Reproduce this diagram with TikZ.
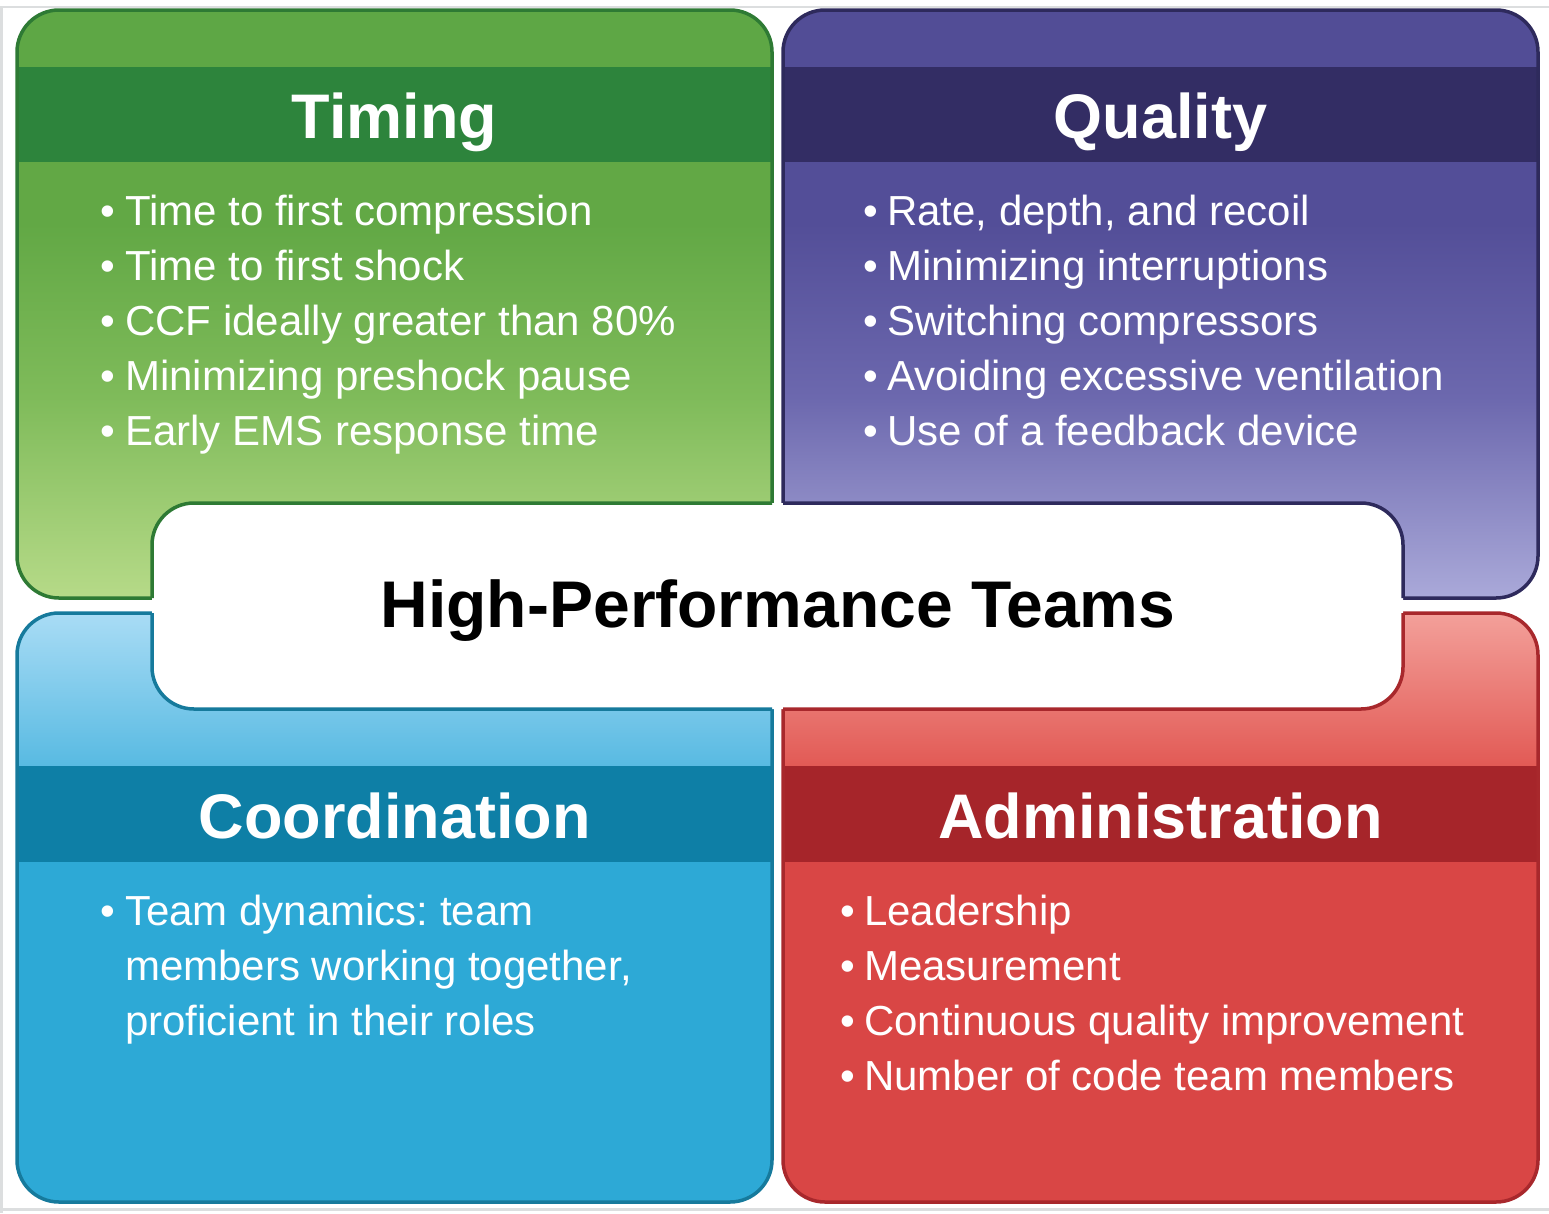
\documentclass[tikz,border=0pt]{standalone}
\usepackage{fontspec}
\setmainfont{Liberation Sans}
\frenchspacing

% quadrant palettes
\definecolor{gline}{HTML}{2E7A34}
\definecolor{gband}{HTML}{5EA745}
\definecolor{ghead}{HTML}{2D843C}
\definecolor{gtop}{HTML}{62A845}
\definecolor{gmid}{HTML}{7FBB5A}
\definecolor{gbot}{HTML}{B6DA88}

\definecolor{pline}{HTML}{2E2A5C}
\definecolor{pband}{HTML}{524D96}
\definecolor{phead}{HTML}{332D64}
\definecolor{ptop}{HTML}{534E98}
\definecolor{pmid}{HTML}{6C68AE}
\definecolor{pbot}{HTML}{AAA9D9}

\definecolor{bline}{HTML}{167A9C}
\definecolor{btop}{HTML}{A9DCF5}
\definecolor{bbot}{HTML}{58BAE2}
\definecolor{bhead}{HTML}{0E7FA6}
\definecolor{bbody}{HTML}{2DA9D6}

\definecolor{rline}{HTML}{A8282C}
\definecolor{rtop}{HTML}{F3A09A}
\definecolor{rbot}{HTML}{E25A55}
\definecolor{rhead}{HTML}{A6252A}
\definecolor{rbody}{HTML}{D94645}

\definecolor{framegrey}{HTML}{DCDEDF}

% vertical body shadings: 25bp = bottom of the filled area, 75bp = top
\pgfdeclareverticalshading{gbodyshade}{100bp}{color(0bp)=(gbot); color(25bp)=(gbot); color(48bp)=(gmid); color(68bp)=(gtop); color(100bp)=(gtop)}
\pgfdeclareverticalshading{pbodyshade}{100bp}{color(0bp)=(pbot); color(25bp)=(pbot); color(48bp)=(pmid); color(68bp)=(ptop); color(100bp)=(ptop)}

\begin{document}
\begin{tikzpicture}[x=1pt,y=-1pt,
  rc/.style={rounded corners=42pt},
  outline/.style={rc, line width=3.5pt},
  heading/.style={anchor=base, text=white, font=\fontsize{63}{63}\selectfont\bfseries, inner sep=0pt},
  item/.style={anchor=base west, text=white, font=\fontsize{42}{55}\selectfont, inner sep=0pt},
  title/.style={anchor=base, text=black, font=\fontsize{66}{66}\selectfont\bfseries, inner sep=0pt}]
\newcommand\bul{\makebox[0pt][r]{\textbullet\hspace{9.5pt}}}
\useasboundingbox (0,0) rectangle (1549,1213);

% thin frame
\draw[framegrey, line width=2pt] (0,7) -- (1549,7);
\draw[framegrey, line width=3pt] (1.5,7) -- (1.5,1213);
\draw[framegrey, line width=3pt] (0,1209.5) -- (1549,1209.5);

% Timing panel
\begin{scope}
  \clip[rc] (17,10) rectangle (772,598);
  \fill[gband] (17,10) rectangle (772,67);
  \fill[ghead] (17,67) rectangle (772,162);
  \shade[shading=gbodyshade] (17,162) rectangle (772,598);
\end{scope}
\draw[gline, outline] (17,10) rectangle (772,598);

% Quality panel
\begin{scope}
  \clip[rc] (783,10) rectangle (1538,598);
  \fill[pband] (783,10) rectangle (1538,67);
  \fill[phead] (783,67) rectangle (1538,162);
  \shade[shading=pbodyshade] (783,162) rectangle (1538,598);
\end{scope}
\draw[pline, outline] (783,10) rectangle (1538,598);

% Coordination panel
\begin{scope}
  \clip[rc] (17,613) rectangle (772,1202);
  \shade[top color=btop, bottom color=bbot] (17,613) rectangle (772,766);
  \fill[bhead] (17,766) rectangle (772,862);
  \fill[bbody] (17,862) rectangle (772,1202);
\end{scope}
\draw[bline, outline] (17,613) rectangle (772,1202);

% Administration panel
\begin{scope}
  \clip[rc] (783,613) rectangle (1538,1202);
  \shade[top color=rtop, bottom color=rbot] (783,613) rectangle (1538,766);
  \fill[rhead] (783,766) rectangle (1538,862);
  \fill[rbody] (783,862) rectangle (1538,1202);
\end{scope}
\draw[rline, outline] (783,613) rectangle (1538,1202);

% central box, its edge taking the colour of each panel it lies on
\fill[white, rc] (152,503) rectangle (1403,709);
\begin{scope}
  \clip[rc] (17,10) rectangle (772,598);
  \draw[gline, outline] (152,503) rectangle (1403,709);
\end{scope}
\begin{scope}
  \clip[rc] (783,10) rectangle (1538,598);
  \draw[pline, outline] (152,503) rectangle (1403,709);
\end{scope}
\begin{scope}
  \clip[rc] (17,613) rectangle (772,1202);
  \draw[bline, outline] (152,503) rectangle (1403,709);
\end{scope}
\begin{scope}
  \clip[rc] (783,613) rectangle (1538,1202);
  \draw[rline, outline] (152,503) rectangle (1403,709);
\end{scope}

\node[title] (hpt) at (778,627) {High-Performance Teams};

% headings
\node[heading] (timing) at (394.5,138) {Timing};
\node[heading] (quality) at (1160.5,138) {Quality};
\node[heading] (coord) at (394.5,838) {Coordination};
\node[heading] (admin) at (1160.5,838) {Administration};

% Timing items
\node[item] (t1) at (125,225) {\bul Time to first compression};
\node[item] (t2) at (125,280) {\bul Time to first shock};
\node[item] (t3) at (125,335) {\bul CCF ideally greater than 80\%};
\node[item] (t4) at (125,390) {\bul Minimizing preshock pause};
\node[item] (t5) at (125,445) {\bul Early EMS response time};

% Quality items
\node[item] (q1) at (887,225) {\bul Rate, depth, and recoil};
\node[item] (q2) at (887,280) {\bul Minimizing interruptions};
\node[item] (q3) at (887,335) {\bul Switching compressors};
\node[item] (q4) at (887,390) {\bul Avoiding excessive ventilation};
\node[item] (q5) at (887,445) {\bul Use of a feedback device};

% Coordination item
\node[item] (c1) at (125,925) {\bul Team dynamics: team};
\node[item] (c2) at (125,980) {members working together,};
\node[item] (c3) at (125,1035) {proficient in their roles};

% Administration items
\node[item] (a1) at (864,925) {\bul Leadership};
\node[item] (a2) at (864,980) {\bul Measurement};
\node[item] (a3) at (864,1035) {\bul Continuous quality improvement};
\node[item] (a4) at (864,1090) {\bul Number of code team members};
\end{tikzpicture}
\end{document}
